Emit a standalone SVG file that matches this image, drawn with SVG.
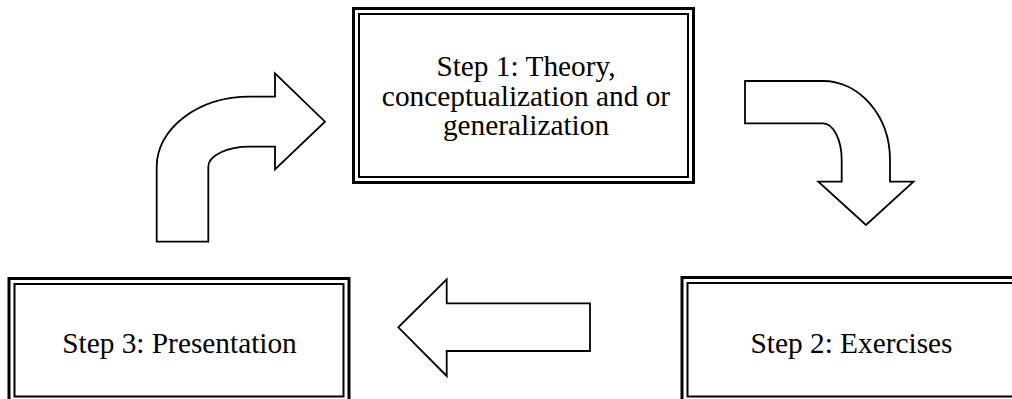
<svg xmlns="http://www.w3.org/2000/svg" width="1012" height="399" viewBox="0 0 1012 399">
  <style>
    .outer { fill: none; stroke: #000; stroke-width: 3; }
    .inner { fill: none; stroke: #000; stroke-width: 2; }
    .label { font-family: "Liberation Serif", "Times New Roman", serif; font-size: 29.33px; fill: #000; text-anchor: middle; }
    .arrow { fill: #fff; stroke: #000; stroke-width: 1.8; stroke-linejoin: miter; }
  </style>
  <rect width="1012" height="399" fill="#fff"/>

  <!-- Step 1 box (top centre) -->
  <g id="step1">
    <rect class="outer" x="353.5" y="8.5" width="340" height="174"/>
    <rect class="inner" x="359" y="14" width="329" height="163"/>
    <text class="label" x="526" y="76">Step 1: Theory,</text>
    <text class="label" x="526" y="105.5">conceptualization and or</text>
    <text class="label" x="526" y="135">generalization</text>
  </g>

  <!-- Step 2 box (bottom right, runs off the edge) -->
  <g id="step2">
    <rect class="outer" x="682" y="277.5" width="340" height="126"/>
    <rect class="inner" x="687.5" y="283" width="329" height="113.5"/>
    <text class="label" x="851.5" y="353">Step 2: Exercises</text>
  </g>

  <!-- Step 3 box (bottom left) -->
  <g id="step3">
    <rect class="outer" x="9" y="278.5" width="340" height="125"/>
    <rect class="inner" x="14.5" y="284" width="329" height="112.5"/>
    <text class="label" x="179.5" y="353">Step 3: Presentation</text>
  </g>

  <!-- Block arrows linking the steps -->
  <g id="connectors">
    <!-- Step 1 to Step 2: bent arrow turning down -->
    <path class="arrow" d="M 745 81 L 823 81 A 67 79 0 0 1 890 160 L 890 181.7 L 913.5 181.7 L 866 225 L 818.3 181.7 L 841.7 181.7 L 841.7 160 A 18.7 36.7 0 0 0 823 123.3 L 745 123.3 Z"/>
    <!-- Step 2 to Step 3: straight arrow pointing left -->
    <path class="arrow" d="M 590 303.3 L 446.7 303.3 L 446.7 279.3 L 398.3 327.3 L 446.7 376 L 446.7 351 L 590 351 Z"/>
    <!-- Step 3 to Step 1: bent arrow turning right -->
    <path class="arrow" d="M 156.7 241.7 L 156.7 166.7 A 93.3 70 0 0 1 250 96.7 L 275 96.7 L 275 73.3 L 325 121.7 L 275 169.3 L 275 146.7 L 250 146.7 A 41.7 20 0 0 0 208.3 166.7 L 208.3 241.7 Z"/>
  </g>
</svg>
